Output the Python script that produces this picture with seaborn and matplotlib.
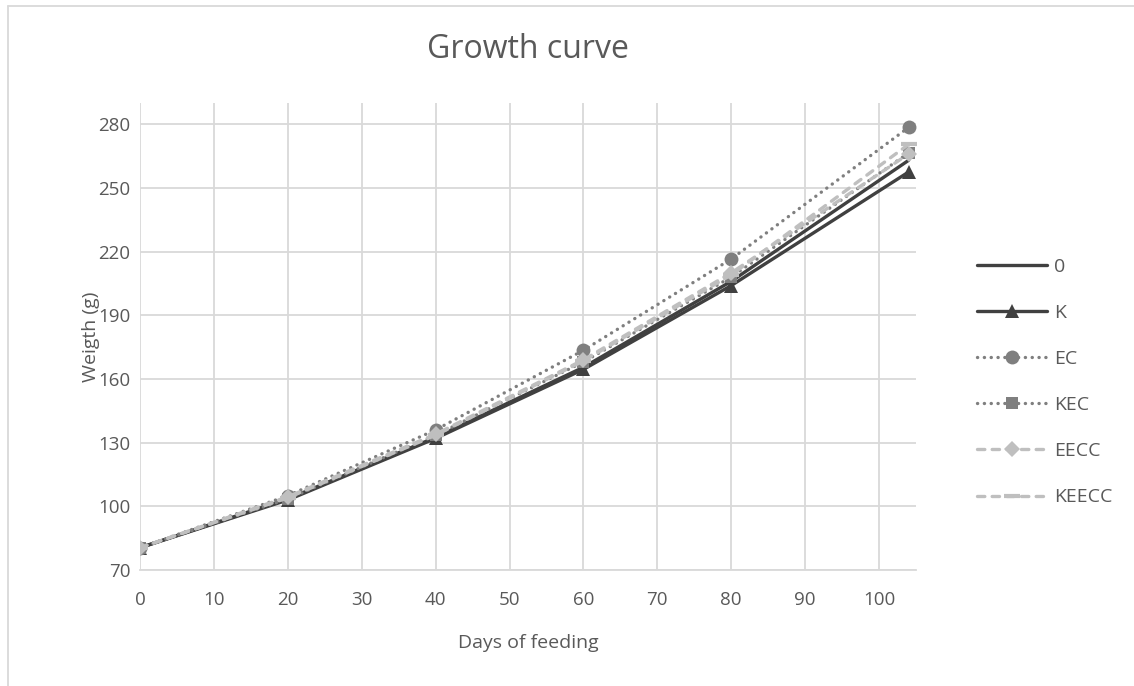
import matplotlib
matplotlib.use("Agg")
import matplotlib.pyplot as plt
from matplotlib.lines import Line2D
import seaborn as sns
import pandas as pd

# Feeding days and weights (g) per treatment
days = [0, 20, 40, 60, 80, 104]
w_0 = [80.5, 103.5, 132.5, 165.5, 206, 263]
w_K = [80.5, 103, 132, 164.5, 204, 257.5]
w_EC = [80.5, 105, 136, 173.5, 216.5, 278.5]
w_KEC = [80.5, 103.5, 133.5, 168, 208, 266.5]
w_EECC = [80.5, 104.5, 134, 169, 210, 266]
w_KEECC = [80.5, 104, 133.5, 168.5, 209, 270.5]

series_names = ["0", "K", "EC", "KEC", "EECC", "KEECC"]
series_vals = [w_0, w_K, w_EC, w_KEC, w_EECC, w_KEECC]

x_ticks = list(range(0, 101, 10))
y_ticks = list(range(70, 281, 30))

dark = "#404040"
mid = "#7f7f7f"
light = "#bfbfbf"
text_col = "#595959"
grid_col = "#d9d9d9"

dot = (0, (0.05, 2.0))
dash = (0, (2.2, 2.2))

styles = {
    "0": dict(color=dark, ls="-", marker=None, ms=0),
    "K": dict(color=dark, ls="-", marker="^", ms=10),
    "EC": dict(color=mid, ls=dot, marker="o", ms=10),
    "KEC": dict(color=mid, ls=dot, marker="s", ms=9),
    "EECC": dict(color=light, ls=dash, marker="D", ms=8),
    "KEECC": dict(color=light, ls=dash, marker="_", ms=11),
}

df = pd.DataFrame({"day": days * len(series_names),
                   "weight": [v for vals in series_vals for v in vals],
                   "group": [n for n in series_names for _ in days]})

sns.set_theme(style="white")
plt.rcParams["font.family"] = ["Open Sans", "DejaVu Sans"]

fig = plt.figure(figsize=(11.34, 6.86), dpi=100)
ax = fig.add_axes([140 / 1134, 1 - 570 / 686, 776 / 1134, 467 / 686])

for name in series_names:
    st = styles[name]
    sub = df[df["group"] == name]
    sns.lineplot(data=sub, x="day", y="weight", ax=ax, color=st["color"],
                 linestyle=st["ls"], linewidth=2.4, marker=st["marker"],
                 markersize=st["ms"], markeredgewidth=3 if st["marker"] == "_" else 0,
                 markeredgecolor=st["color"], dash_capstyle="round",
                 solid_capstyle="round", legend=False, zorder=3)

ax.set_xlim(0, 105)
ax.set_ylim(70, 290)
ax.set_xticks(x_ticks)
ax.set_yticks(y_ticks)
ax.grid(True, color=grid_col, linewidth=1.3)
ax.set_axisbelow(True)
for side in ["top", "right", "left"]:
    ax.spines[side].set_visible(False)
ax.spines["bottom"].set_color(grid_col)
ax.spines["bottom"].set_linewidth(1.3)
ax.tick_params(axis="both", length=0, labelsize=13.5, labelcolor=text_col)
ax.tick_params(axis="x", pad=15)
ax.tick_params(axis="y", pad=7)

ax.set_xlabel("Days of feeding", fontsize=14, color=text_col)
ax.set_ylabel("Weigth (g)", fontsize=14, color=text_col)
ax.xaxis.set_label_coords(0.5, -(634 - 570) / 467)
ax.yaxis.set_label_coords(-(140 - 100) / 776, 0.5)
fig.text(528 / 1134, 1 - 50 / 686, "Growth curve", ha="center", va="center",
         fontsize=23, color=text_col)

handles = []
for name in series_names:
    st = styles[name]
    handles.append(Line2D([], [], color=st["color"], linestyle=st["ls"], linewidth=2.4,
                          marker=st["marker"], markersize=st["ms"],
                          markeredgewidth=3 if st["marker"] == "_" else 0,
                          markeredgecolor=st["color"], dash_capstyle="round",
                          solid_capstyle="round"))
fig.legend(handles, series_names, loc="center left",
           bbox_to_anchor=(977 / 1134, 1 - 382 / 686), frameon=False,
           fontsize=14, labelcolor=text_col, handlelength=3.6,
           handletextpad=0.35, labelspacing=1.45, borderpad=0, borderaxespad=0)

# outer chart frame
fig.add_artist(Line2D([7.5 / 1134, 7.5 / 1134], [0, 1 - 5.7 / 686],
                      transform=fig.transFigure, color=grid_col, linewidth=1.3))
fig.add_artist(Line2D([7.5 / 1134, 1], [1 - 5.7 / 686, 1 - 5.7 / 686],
                      transform=fig.transFigure, color=grid_col, linewidth=1.3))

fig.savefig("out.png", dpi=100)
